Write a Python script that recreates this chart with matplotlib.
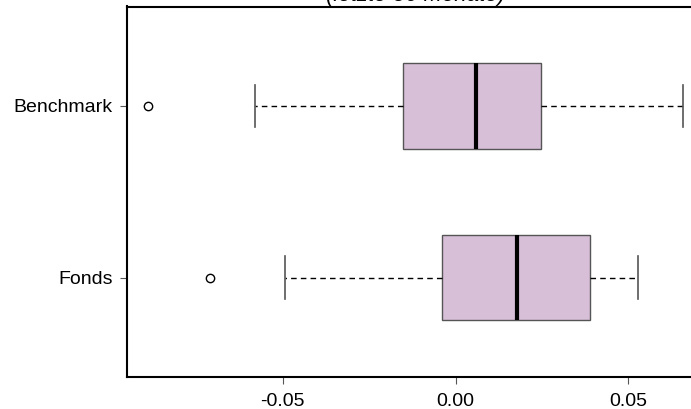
import matplotlib
matplotlib.use('Agg')
import matplotlib.pyplot as plt

# Boxplot-Kennzahlen (monatliche Renditen, letzte 36 Monate)
labels = ['Fonds', 'Benchmark']
whislo = [-0.0495, -0.0580]
q1 = [-0.0038, -0.0153]
med = [0.0179, 0.0060]
q3 = [0.0390, 0.0248]
whishi = [0.0529, 0.0657]
fliers = [[-0.0712], [-0.0890]]
xticks = [-0.05, 0.00, 0.05]
xticklabels = ['-0.05', '0.00', '0.05']

plt.rcParams['font.family'] = ['Liberation Sans', 'DejaVu Sans']

stats = []
for i in range(len(labels)):
    stats.append({'label': labels[i], 'whislo': whislo[i], 'q1': q1[i], 'med': med[i],
                  'q3': q3[i], 'whishi': whishi[i], 'fliers': fliers[i]})

fig = plt.figure(figsize=(6.91, 4.09), dpi=100)
# axes reaches past the right edge (the original picture is cut there)
ax = fig.add_axes([126.7 / 691, 1 - 377 / 409, (704 - 126.7) / 691, (377 - 6.5) / 409])

ax.bxp(stats, positions=[1, 2], vert=False, widths=0.5, patch_artist=True,
       boxprops=dict(facecolor='#d8bfd8', edgecolor='#555555', linewidth=1),
       medianprops=dict(color='black', linewidth=3, solid_capstyle='butt'),
       whiskerprops=dict(color='black', linewidth=1, linestyle=(0, (4, 3))),
       capprops=dict(color='#555555', linewidth=1.2),
       flierprops=dict(marker='o', markerfacecolor='white', markeredgecolor='black',
                       markersize=6, markeredgewidth=1),
       capwidths=0.25)

ax.set_xlim(-0.0952, 0.0719)
ax.set_ylim(0.42, 2.58)
ax.set_xticks(xticks)
ax.set_xticklabels(xticklabels)
ax.set_yticks([1, 2])
ax.set_yticklabels(labels)
ax.tick_params(axis='both', labelsize=14, length=5, width=0.8, color='#555555', pad=5)
ax.tick_params(axis='x', pad=6.5)
for s in ['left', 'bottom', 'top', 'right']:
    ax.spines[s].set_linewidth(1.5)
    ax.spines[s].set_color('black')

# title is cut at the top edge in the reference picture as well
fig.text(416 / 691, 1 - 1 / 409, '(letzte 36 Monate)', style='italic', fontsize=16,
         ha='center', va='baseline')

fig.savefig('out.png', dpi=100)
